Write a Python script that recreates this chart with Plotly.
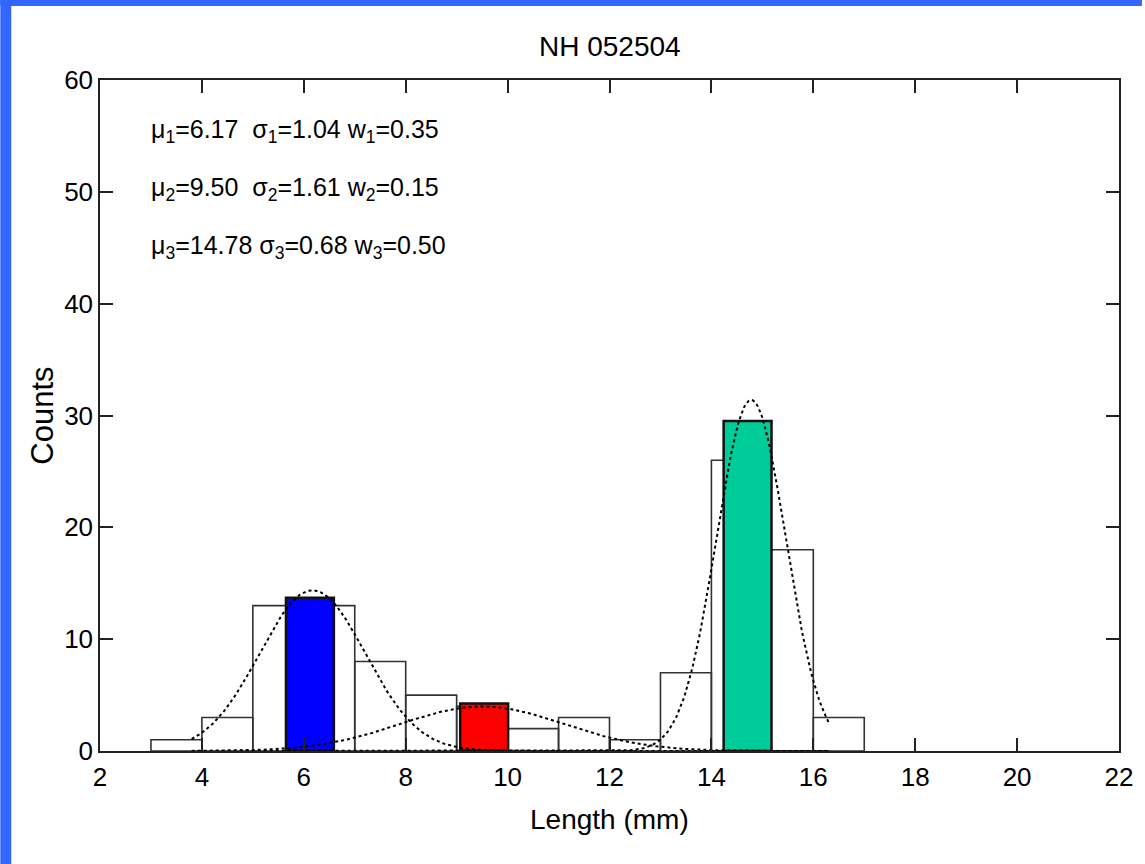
import numpy as np
import plotly.graph_objects as go

# Histogram data (bin edges of width 1)
bin_left = [3, 4, 5, 6, 7, 8, 9, 10, 11, 12, 13, 14, 15, 16]
counts = [1, 3, 13, 13, 8, 5, 4, 2, 3, 1, 7, 26, 18, 3]

# Mixture component parameters (as printed on the chart)
mu = [6.17, 9.50, 14.78]
sigma = [1.04, 1.61, 0.68]
weight = [0.35, 0.15, 0.50]

# Highlighted component bars (centre, height)
comp_center = [6.12, 9.54, 14.71]
comp_height = [13.7, 4.25, 29.5]
comp_color = ["#0000FF", "#FF0000", "#00CC99"]

fit_range = [3.8, 16.3]

title_text = "NH 052504"
x_label = "Length (mm)"
y_label = "Counts"
x_ticks = [2, 4, 6, 8, 10, 12, 14, 16, 18, 20, 22]
y_ticks = [0, 10, 20, 30, 40, 50, 60]

FONT = "Liberation Sans, Arial, Helvetica, sans-serif"

W, H = 1145, 864
ML, MR, MT, MB = 100, 23, 80, 113
PW = W - ML - MR
PH = H - MT - MB

fig = go.Figure()

# Histogram bars
fig.add_trace(go.Bar(
    x=[b + 0.5 for b in bin_left], y=counts, width=1,
    marker=dict(color="rgba(255,255,255,0)", line=dict(color="#333333", width=1.6)),
    showlegend=False, hoverinfo="x+y"))

# Fitted Gaussian components
N = sum(counts)
xs = np.linspace(fit_range[0], fit_range[1], 400)
for m, s, w in zip(mu, sigma, weight):
    ys = N * w / (s * np.sqrt(2 * np.pi)) * np.exp(-(xs - m) ** 2 / (2 * s ** 2))
    fig.add_trace(go.Scatter(x=xs, y=ys, mode="lines",
                             line=dict(color="black", width=2, dash="dot"),
                             showlegend=False, hoverinfo="skip"))

# Coloured component bars
fig.add_trace(go.Bar(
    x=comp_center, y=comp_height, width=0.94,
    marker=dict(color=comp_color, line=dict(color="#111111", width=2.5)),
    showlegend=False))

axis_common = dict(
    showline=True, linecolor="#222222", linewidth=1.5, mirror="ticks",
    ticks="inside", ticklen=13, tickwidth=1.5, tickcolor="#222222",
    showgrid=False, zeroline=False,
    tickfont=dict(family=FONT, size=26, color="black"),
)

fig.update_layout(
    width=W, height=H,
    margin=dict(l=ML, r=MR, t=MT, b=MB),
    paper_bgcolor="white", plot_bgcolor="white",
    barmode="overlay",
    xaxis=dict(range=[2, 22], tickvals=x_ticks, ticklabelstandoff=2, **axis_common),
    yaxis=dict(range=[0, 60], tickvals=y_ticks, ticklabelstandoff=0, **axis_common),
    showlegend=False,
)

# Blue frame on top and left edges of the slide
fig.add_shape(type="rect", xref="paper", yref="paper", layer="below",
              x0=-ML / PW, x1=(W - ML) / PW, y0=1 + (MT - 6) / PH, y1=1 + MT / PH,
              fillcolor="#3366FF", line=dict(width=0))
fig.add_shape(type="rect", xref="paper", yref="paper", layer="below",
              x0=-ML / PW, x1=-(ML - 11) / PW, y0=-MB / PH, y1=1 + MT / PH,
              fillcolor="#3366FF", line=dict(width=0))

# Title
fig.add_annotation(text=title_text, xref="paper", yref="paper",
                   x=0.5, y=1 + (MT - 46) / PH, xanchor="center", yanchor="middle",
                   showarrow=False, font=dict(family=FONT, size=28, color="black"))
# Axis labels
fig.add_annotation(text=x_label, xref="paper", yref="paper",
                   x=0.5, y=-(819 - (MT + PH)) / PH, xanchor="center", yanchor="middle",
                   showarrow=False, font=dict(family=FONT, size=28, color="black"))
fig.add_annotation(text=y_label, xref="paper", yref="paper",
                   x=-(ML - 42) / PW, y=0.5, xanchor="center", yanchor="middle",
                   textangle=-90, showarrow=False,
                   font=dict(family=FONT, size=31, color="black"))

# Parameter text
line_y = [127, 185, 243]
for i, (m, s, w) in enumerate(zip(mu, sigma, weight)):
    k = i + 1
    sep = "&nbsp;&nbsp;" if m < 10 else "&nbsp;"
    txt = (f"\u03bc<sub>{k}</sub>={m:.2f}{sep}\u03c3<sub>{k}</sub>={s:.2f} "
           f"w<sub>{k}</sub>={w:.2f}")
    fig.add_annotation(text=txt, xref="paper", yref="paper",
                       x=(149 - ML) / PW, y=1 - (line_y[i] + 4 - MT) / PH,
                       xanchor="left", yanchor="middle", showarrow=False,
                       font=dict(family=FONT, size=25, color="black"))

fig.write_html("out.html")
